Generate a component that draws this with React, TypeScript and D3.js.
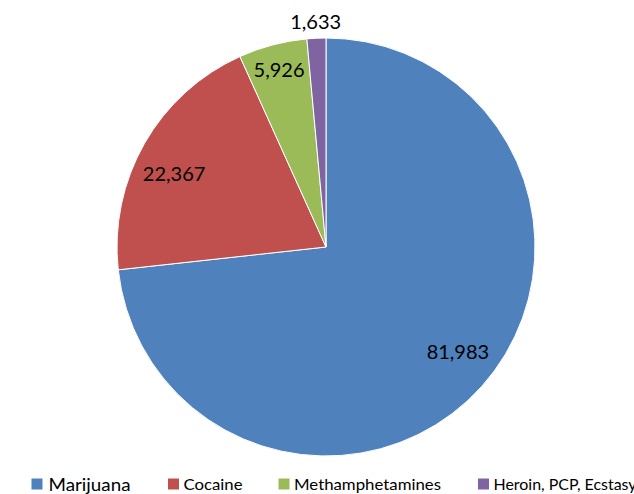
import React from "react";
import * as d3 from "d3";

const categories = ["Marijuana", "Cocaine", "Methamphetamines", "Heroin, PCP, Ecstasy"];
const values = [81983, 22367, 5926, 1633];
const colors = ["#4F81BD", "#C0504D", "#9BBB59", "#8064A2"];
const labelRadii = [168, 169, 184, 226];
const labelAngleShift = [-3.6, -3.7, 0, 0];
const legendX = [31.5, 168, 278.5, 478];
const legendTextLen = [82, 59, 147, 143];
const legendFont = [18, 15, 15, 15];

export default function App() {
  const W = 634, H = 494;
  const cx = 326, cy = 247, R = 209;
  const pie = d3.pie<number>().sort(null).value((d) => d)(values);
  const arc = d3.arc<d3.PieArcDatum<number>>().innerRadius(0).outerRadius(R);
  const fmt = d3.format(",");
  return (
    <svg width={W} height={H} style={{ position: "absolute", left: 0, top: 0 }}
      fontFamily="Lato, 'Open Sans', sans-serif">
      <g transform={`translate(${cx},${cy})`}>
        {pie.map((p, i) => (
          <path key={i} d={arc(p) || ""} fill={colors[i]} stroke="#fff" strokeWidth={1} />
        ))}
        {pie.map((p, i) => {
          const a = (p.startAngle + p.endAngle) / 2 + (labelAngleShift[i] * Math.PI) / 180;
          const r = labelRadii[i];
          return (
            <text key={i} x={Math.sin(a) * r} y={-Math.cos(a) * r} textAnchor="middle"
              dominantBaseline="central" fontSize={20} fill="#000">
              {fmt(values[i])}
            </text>
          );
        })}
      </g>
      {categories.map((c, i) => (
        <g key={c}>
          <rect x={legendX[i]} y={478.5} width={11} height={11} fill={colors[i]} />
          <text x={legendX[i] + (i === 0 ? 17 : 15.5)} y={i === 0 ? 490.5 : 489.5}
            fontSize={legendFont[i]} fill="#000"
            textLength={legendTextLen[i]} lengthAdjust="spacingAndGlyphs">{c}</text>
        </g>
      ))}
    </svg>
  );
}
